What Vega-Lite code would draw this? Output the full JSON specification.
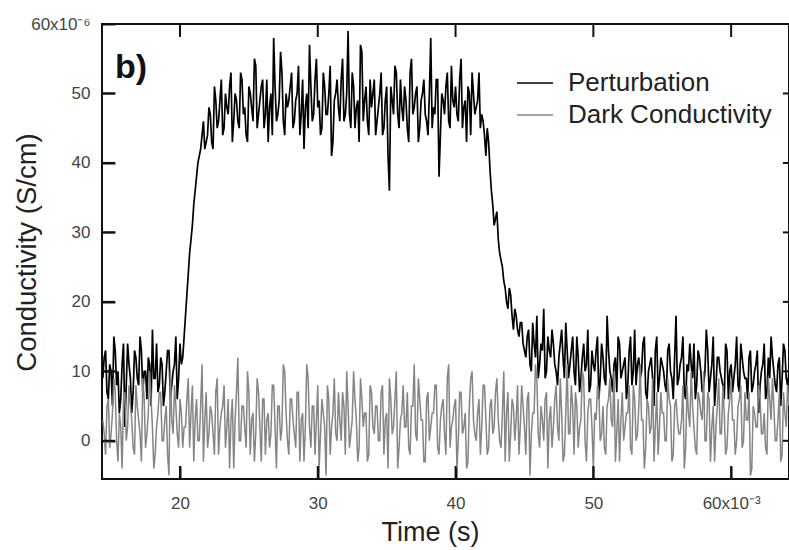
{
"$schema":"https://vega.github.io/schema/vega-lite/v6.json",
"autosize":{"type":"none"},
"width":687,"height":455,
"padding":{"left":102,"top":24,"right":0,"bottom":71},
"background":"white",
"config":{"view":{"stroke":"#111","strokeWidth":2},"font":"Liberation Sans"},
"datasets":{
"frame":[
{"g":"top","x":14.34,"y":60},{"g":"top","x":64.2,"y":60},
{"g":"b20","x":20,"y":-5.5},{"g":"b20","x":20,"y":-3.63},
{"g":"b30","x":30,"y":-5.5},{"g":"b30","x":30,"y":-3.63},
{"g":"b40","x":40,"y":-5.5},{"g":"b40","x":40,"y":-3.63},
{"g":"b50","x":50,"y":-5.5},{"g":"b50","x":50,"y":-3.63},
{"g":"b60","x":60,"y":-5.5},{"g":"b60","x":60,"y":-3.63},
{"g":"t20","x":20,"y":60},{"g":"t20","x":20,"y":58.13},
{"g":"t30","x":30,"y":60},{"g":"t30","x":30,"y":58.13},
{"g":"t40","x":40,"y":60},{"g":"t40","x":40,"y":58.13},
{"g":"t50","x":50,"y":60},{"g":"t50","x":50,"y":58.13},
{"g":"t60","x":60,"y":60},{"g":"t60","x":60,"y":58.13},
{"g":"l0","x":14.34,"y":0},{"g":"l0","x":15.28,"y":0},
{"g":"l10","x":14.34,"y":10},{"g":"l10","x":15.28,"y":10},
{"g":"l20","x":14.34,"y":20},{"g":"l20","x":15.28,"y":20},
{"g":"l30","x":14.34,"y":30},{"g":"l30","x":15.28,"y":30},
{"g":"l40","x":14.34,"y":40},{"g":"l40","x":15.28,"y":40},
{"g":"l50","x":14.34,"y":50},{"g":"l50","x":15.28,"y":50},
{"g":"l60","x":14.34,"y":60},{"g":"l60","x":15.28,"y":60},
{"g":"r0","x":63.76,"y":0},{"g":"r0","x":64.2,"y":0},
{"g":"r10","x":63.76,"y":10},{"g":"r10","x":64.2,"y":10},
{"g":"r20","x":63.76,"y":20},{"g":"r20","x":64.2,"y":20},
{"g":"r30","x":63.76,"y":30},{"g":"r30","x":64.2,"y":30},
{"g":"r40","x":63.76,"y":40},{"g":"r40","x":64.2,"y":40},
{"g":"r50","x":63.76,"y":50},{"g":"r50","x":64.2,"y":50},
{"g":"r60","x":63.76,"y":60},{"g":"r60","x":64.2,"y":60}
],
"series":[
{"t":14.4,"p":9,"d":3},{"t":14.6,"p":13,"d":-2},{"t":14.8,"p":6,"d":6},{"t":15,"p":10,"d":1},{"t":15.2,"p":15,"d":9},{"t":15.4,"p":8,"d":0},{"t":15.6,"p":4,"d":4},{"t":15.8,"p":11,"d":-4},{"t":16,"p":2,"d":7},{"t":16.2,"p":14,"d":2},
{"t":16.4,"p":9,"d":5},{"t":16.6,"p":7,"d":-1},{"t":16.8,"p":12,"d":8},{"t":17,"p":8,"d":3},{"t":17.2,"p":13,"d":-3},{"t":17.4,"p":10,"d":6},{"t":17.6,"p":6,"d":1},{"t":17.8,"p":11,"d":10},{"t":18,"p":16,"d":2},{"t":18.2,"p":9,"d":-2},
{"t":18.4,"p":7,"d":4},{"t":18.6,"p":12,"d":7},{"t":18.8,"p":5,"d":0},{"t":19,"p":10,"d":5},{"t":19.2,"p":13,"d":-5},{"t":19.4,"p":8,"d":3},{"t":19.6,"p":11,"d":8},{"t":19.8,"p":6,"d":1},{"t":20,"p":14,"d":6},{"t":20.2,"p":12,"d":-1},
{"t":20.4,"p":18,"d":2},{"t":20.6,"p":24,"d":9},{"t":20.8,"p":29,"d":4},{"t":21,"p":34,"d":-3},{"t":21.2,"p":38,"d":6},{"t":21.4,"p":41,"d":0},{"t":21.6,"p":44,"d":11},{"t":21.8,"p":42,"d":3},{"t":22,"p":44,"d":-1},{"t":22.2,"p":47,"d":5},
{"t":22.4,"p":42,"d":1},{"t":22.6,"p":49,"d":7},{"t":22.8,"p":46,"d":-2},{"t":23,"p":52,"d":4},{"t":23.2,"p":45,"d":8},{"t":23.4,"p":48,"d":2},{"t":23.6,"p":51,"d":-4},{"t":23.8,"p":43,"d":6},{"t":24,"p":50,"d":3},{"t":24.2,"p":46,"d":12},
{"t":24.4,"p":53,"d":0},{"t":24.6,"p":47,"d":5},{"t":24.8,"p":44,"d":-1},{"t":25,"p":51,"d":7},{"t":25.2,"p":48,"d":3},{"t":25.4,"p":55,"d":-3},{"t":25.6,"p":45,"d":9},{"t":25.8,"p":49,"d":2},{"t":26,"p":52,"d":6},{"t":26.2,"p":47,"d":-2},
{"t":26.4,"p":43,"d":4},{"t":26.6,"p":50,"d":1},{"t":26.8,"p":58,"d":8},{"t":27,"p":46,"d":-4},{"t":27.2,"p":49,"d":5},{"t":27.4,"p":53,"d":2},{"t":27.6,"p":44,"d":10},{"t":27.8,"p":48,"d":0},{"t":28,"p":51,"d":6},{"t":28.2,"p":45,"d":3},
{"t":28.4,"p":49,"d":-1},{"t":28.6,"p":54,"d":7},{"t":28.8,"p":47,"d":3},{"t":29,"p":42,"d":-3},{"t":29.2,"p":50,"d":11},{"t":29.4,"p":57,"d":2},{"t":29.6,"p":46,"d":5},{"t":29.8,"p":52,"d":-2},{"t":30,"p":48,"d":8},{"t":30.2,"p":44,"d":1},
{"t":30.4,"p":53,"d":4},{"t":30.6,"p":47,"d":-5},{"t":30.8,"p":50,"d":6},{"t":31,"p":41,"d":2},{"t":31.2,"p":49,"d":9},{"t":31.4,"p":52,"d":0},{"t":31.6,"p":46,"d":3},{"t":31.8,"p":55,"d":7},{"t":32,"p":47,"d":-2},{"t":32.2,"p":59,"d":5},
{"t":32.4,"p":45,"d":1},{"t":32.6,"p":51,"d":10},{"t":32.8,"p":48,"d":3},{"t":33,"p":43,"d":-1},{"t":33.2,"p":56,"d":6},{"t":33.4,"p":49,"d":4},{"t":33.6,"p":46,"d":-3},{"t":33.8,"p":52,"d":8},{"t":34,"p":50,"d":2},{"t":34.2,"p":44,"d":5},
{"t":34.4,"p":48,"d":0},{"t":34.6,"p":53,"d":7},{"t":34.8,"p":45,"d":-2},{"t":35,"p":51,"d":4},{"t":35.2,"p":36,"d":9},{"t":35.4,"p":49,"d":1},{"t":35.6,"p":54,"d":6},{"t":35.8,"p":47,"d":-4},{"t":36,"p":52,"d":3},{"t":36.2,"p":46,"d":8},
{"t":36.4,"p":49,"d":2},{"t":36.6,"p":43,"d":-1},{"t":36.8,"p":55,"d":5},{"t":37,"p":48,"d":11},{"t":37.2,"p":51,"d":0},{"t":37.4,"p":45,"d":6},{"t":37.6,"p":50,"d":3},{"t":37.8,"p":47,"d":-3},{"t":38,"p":44,"d":7},{"t":38.2,"p":58,"d":2},
{"t":38.4,"p":48,"d":4},{"t":38.6,"p":52,"d":8},{"t":38.8,"p":38,"d":-2},{"t":39,"p":50,"d":5},{"t":39.2,"p":47,"d":1},{"t":39.4,"p":53,"d":9},{"t":39.6,"p":45,"d":-1},{"t":39.8,"p":49,"d":3},{"t":40,"p":51,"d":6},{"t":40.2,"p":46,"d":0},
{"t":40.4,"p":55,"d":7},{"t":40.6,"p":48,"d":2},{"t":40.8,"p":43,"d":-4},{"t":41,"p":50,"d":5},{"t":41.2,"p":53,"d":10},{"t":41.4,"p":47,"d":1},{"t":41.6,"p":49,"d":4},{"t":41.8,"p":45,"d":-2},{"t":42,"p":46,"d":8},{"t":42.2,"p":41,"d":3},
{"t":42.4,"p":43,"d":-1},{"t":42.6,"p":36,"d":6},{"t":42.8,"p":31,"d":2},{"t":43,"p":33,"d":9},{"t":43.2,"p":27,"d":0},{"t":43.4,"p":25,"d":4},{"t":43.6,"p":22,"d":-3},{"t":43.8,"p":19,"d":7},{"t":44,"p":21,"d":1},{"t":44.2,"p":16,"d":5},
{"t":44.4,"p":18,"d":3},{"t":44.6,"p":15,"d":-2},{"t":44.8,"p":17,"d":8},{"t":45,"p":13,"d":2},{"t":45.2,"p":15,"d":6},{"t":45.4,"p":11,"d":-5},{"t":45.6,"p":17,"d":4},{"t":45.8,"p":12,"d":11},{"t":46,"p":9,"d":1},{"t":46.2,"p":14,"d":5},
{"t":46.4,"p":19,"d":0},{"t":46.6,"p":10,"d":7},{"t":46.8,"p":13,"d":3},{"t":47,"p":16,"d":-1},{"t":47.2,"p":11,"d":6},{"t":47.4,"p":8,"d":2},{"t":47.6,"p":14,"d":9},{"t":47.8,"p":12,"d":-3},{"t":48,"p":17,"d":4},{"t":48.2,"p":9,"d":1},
{"t":48.4,"p":13,"d":8},{"t":48.6,"p":10,"d":-2},{"t":48.8,"p":15,"d":5},{"t":49,"p":7,"d":2},{"t":49.2,"p":12,"d":10},{"t":49.4,"p":10,"d":0},{"t":49.6,"p":16,"d":4},{"t":49.8,"p":8,"d":6},{"t":50,"p":11,"d":-4},{"t":50.2,"p":13,"d":3},
{"t":50.4,"p":6,"d":7},{"t":50.6,"p":14,"d":1},{"t":50.8,"p":9,"d":-1},{"t":51,"p":18,"d":5},{"t":51.2,"p":10,"d":9},{"t":51.4,"p":7,"d":2},{"t":51.6,"p":12,"d":-3},{"t":51.8,"p":15,"d":6},{"t":52,"p":9,"d":3},{"t":52.2,"p":11,"d":0},
{"t":52.4,"p":6,"d":4},{"t":52.6,"p":13,"d":8},{"t":52.8,"p":8,"d":-2},{"t":53,"p":16,"d":6},{"t":53.2,"p":11,"d":1},{"t":53.4,"p":9,"d":11},{"t":53.6,"p":14,"d":3},{"t":53.8,"p":7,"d":-1},{"t":54,"p":10,"d":5},{"t":54.2,"p":12,"d":2},
{"t":54.4,"p":5,"d":-3},{"t":54.6,"p":15,"d":7},{"t":54.8,"p":9,"d":2},{"t":55,"p":11,"d":4},{"t":55.2,"p":8,"d":0},{"t":55.4,"p":13,"d":9},{"t":55.6,"p":10,"d":5},{"t":55.8,"p":6,"d":-2},{"t":56,"p":18,"d":6},{"t":56.2,"p":9,"d":1},
{"t":56.4,"p":12,"d":3},{"t":56.6,"p":7,"d":-4},{"t":56.8,"p":11,"d":8},{"t":57,"p":14,"d":2},{"t":57.2,"p":9,"d":5},{"t":57.4,"p":6,"d":-1},{"t":57.6,"p":13,"d":7},{"t":57.8,"p":10,"d":4},{"t":58,"p":8,"d":10},{"t":58.2,"p":16,"d":0},
{"t":58.4,"p":7,"d":6},{"t":58.6,"p":11,"d":2},{"t":58.8,"p":5,"d":-3},{"t":59,"p":12,"d":5},{"t":59.2,"p":10,"d":1},{"t":59.4,"p":8,"d":8},{"t":59.6,"p":14,"d":-2},{"t":59.8,"p":6,"d":4},{"t":60,"p":11,"d":9},{"t":60.2,"p":9,"d":3},
{"t":60.4,"p":15,"d":0},{"t":60.6,"p":7,"d":6},{"t":60.8,"p":12,"d":-1},{"t":61,"p":9,"d":7},{"t":61.2,"p":6,"d":3},{"t":61.4,"p":13,"d":-5},{"t":61.6,"p":8,"d":5},{"t":61.8,"p":11,"d":2},{"t":62,"p":4,"d":8},{"t":62.2,"p":10,"d":1},
{"t":62.4,"p":14,"d":4},{"t":62.6,"p":7,"d":-2},{"t":62.8,"p":9,"d":6},{"t":63,"p":12,"d":9},{"t":63.2,"p":8,"d":0},{"t":63.4,"p":11,"d":3},{"t":63.6,"p":5,"d":-3},{"t":63.8,"p":14,"d":7},{"t":64,"p":9,"d":2},{"t":64.2,"p":10,"d":5},
{"t":14.5,"p":12,"d":1},{"t":14.7,"p":7,"d":5},{"t":14.9,"p":11,"d":-1},{"t":15.1,"p":5,"d":4},{"t":15.3,"p":13,"d":7},{"t":15.5,"p":10,"d":-3},{"t":15.7,"p":6,"d":2},{"t":15.9,"p":14,"d":6},{"t":16.1,"p":8,"d":0},{"t":16.3,"p":11,"d":8},
{"t":16.5,"p":4,"d":3},{"t":16.7,"p":13,"d":-2},{"t":16.9,"p":9,"d":5},{"t":17.1,"p":15,"d":1},{"t":17.3,"p":7,"d":9},{"t":17.5,"p":10,"d":-1},{"t":17.7,"p":12,"d":4},{"t":17.9,"p":5,"d":6},{"t":18.1,"p":9,"d":-4},{"t":18.3,"p":14,"d":2},
{"t":18.5,"p":8,"d":7},{"t":18.7,"p":11,"d":0},{"t":18.9,"p":7,"d":3},{"t":19.1,"p":13,"d":-2},{"t":19.3,"p":6,"d":10},{"t":19.5,"p":10,"d":1},{"t":19.7,"p":15,"d":5},{"t":19.9,"p":9,"d":-1},{"t":20.1,"p":11,"d":4},
{"t":20.3,"p":15,"d":2},{"t":20.5,"p":21,"d":6},{"t":20.7,"p":27,"d":-1},{"t":20.9,"p":31,"d":8},{"t":21.1,"p":36,"d":3},{"t":21.3,"p":40,"d":0},{"t":21.5,"p":42,"d":5},{"t":21.7,"p":46,"d":-3},{"t":21.9,"p":43,"d":7},{"t":22.1,"p":48,"d":1},
{"t":22.3,"p":43,"d":4},{"t":22.5,"p":51,"d":-2},{"t":22.7,"p":45,"d":9},{"t":22.9,"p":49,"d":2},{"t":23.1,"p":44,"d":5},{"t":23.3,"p":50,"d":-1},{"t":23.5,"p":47,"d":6},{"t":23.7,"p":53,"d":3},{"t":23.9,"p":46,"d":-4},{"t":24.1,"p":49,"d":7},
{"t":24.3,"p":45,"d":0},{"t":24.5,"p":52,"d":5},{"t":24.7,"p":48,"d":2},{"t":24.9,"p":43,"d":10},{"t":25.1,"p":50,"d":-2},{"t":25.3,"p":46,"d":4},{"t":25.5,"p":54,"d":1},{"t":25.7,"p":47,"d":7},{"t":25.9,"p":51,"d":-3},{"t":26.1,"p":45,"d":6},
{"t":26.3,"p":52,"d":3},{"t":26.5,"p":48,"d":-1},{"t":26.7,"p":44,"d":8},{"t":26.9,"p":51,"d":2},{"t":27.1,"p":47,"d":5},{"t":27.3,"p":56,"d":0},{"t":27.5,"p":46,"d":11},{"t":27.7,"p":50,"d":4},{"t":27.9,"p":49,"d":-2},{"t":28.1,"p":53,"d":6},
{"t":28.3,"p":46,"d":1},{"t":28.5,"p":50,"d":7},{"t":28.7,"p":44,"d":-3},{"t":28.9,"p":52,"d":4},{"t":29.1,"p":48,"d":2},{"t":29.3,"p":45,"d":9},{"t":29.5,"p":51,"d":-1},{"t":29.7,"p":47,"d":5},{"t":29.9,"p":55,"d":3},{"t":30.1,"p":49,"d":-4},
{"t":30.3,"p":45,"d":6},{"t":30.5,"p":51,"d":2},{"t":30.7,"p":47,"d":8},{"t":30.9,"p":54,"d":-2},{"t":31.1,"p":43,"d":4},{"t":31.3,"p":50,"d":1},{"t":31.5,"p":48,"d":7},{"t":31.7,"p":52,"d":0},{"t":31.9,"p":46,"d":5},{"t":32.1,"p":50,"d":10},
{"t":32.3,"p":47,"d":-1},{"t":32.5,"p":53,"d":3},{"t":32.7,"p":45,"d":6},{"t":32.9,"p":49,"d":-3},{"t":33.1,"p":57,"d":9},{"t":33.3,"p":46,"d":2},{"t":33.5,"p":51,"d":4},{"t":33.7,"p":44,"d":-2},{"t":33.9,"p":48,"d":7},{"t":34.1,"p":52,"d":1},
{"t":34.3,"p":46,"d":5},{"t":34.5,"p":50,"d":0},{"t":34.7,"p":44,"d":8},{"t":34.9,"p":49,"d":3},{"t":35.1,"p":41,"d":-4},{"t":35.3,"p":51,"d":6},{"t":35.5,"p":47,"d":2},{"t":35.7,"p":53,"d":10},{"t":35.9,"p":45,"d":-1},{"t":36.1,"p":48,"d":4},
{"t":36.3,"p":51,"d":2},{"t":36.5,"p":45,"d":7},{"t":36.7,"p":53,"d":-2},{"t":36.9,"p":47,"d":5},{"t":37.1,"p":50,"d":1},{"t":37.3,"p":43,"d":9},{"t":37.5,"p":49,"d":3},{"t":37.7,"p":52,"d":-3},{"t":37.9,"p":46,"d":6},{"t":38.1,"p":50,"d":0},
{"t":38.3,"p":45,"d":4},{"t":38.5,"p":47,"d":8},{"t":38.7,"p":52,"d":-1},{"t":38.9,"p":44,"d":3},{"t":39.1,"p":49,"d":6},{"t":39.3,"p":51,"d":-2},{"t":39.5,"p":46,"d":11},{"t":39.7,"p":54,"d":2},{"t":39.9,"p":48,"d":5},{"t":40.1,"p":47,"d":-4},
{"t":40.3,"p":52,"d":7},{"t":40.5,"p":45,"d":1},{"t":40.7,"p":49,"d":4},{"t":40.9,"p":51,"d":-3},{"t":41.1,"p":44,"d":9},{"t":41.3,"p":50,"d":3},{"t":41.5,"p":48,"d":0},{"t":41.7,"p":53,"d":6},{"t":41.9,"p":47,"d":2},{"t":42.1,"p":44,"d":8},
{"t":42.3,"p":45,"d":-2},{"t":42.5,"p":39,"d":5},{"t":42.7,"p":34,"d":1},{"t":42.9,"p":32,"d":7},{"t":43.1,"p":29,"d":3},{"t":43.3,"p":26,"d":-1},{"t":43.5,"p":23,"d":10},{"t":43.7,"p":20,"d":4},{"t":43.9,"p":22,"d":-3},{"t":44.1,"p":18,"d":6},
{"t":44.3,"p":19,"d":0},{"t":44.5,"p":16,"d":8},{"t":44.7,"p":17,"d":2},{"t":44.9,"p":14,"d":5},{"t":45.1,"p":12,"d":-2},{"t":45.3,"p":16,"d":7},{"t":45.5,"p":10,"d":1},{"t":45.7,"p":14,"d":4},{"t":45.9,"p":18,"d":9},{"t":46.1,"p":11,"d":-1},
{"t":46.3,"p":13,"d":3},{"t":46.5,"p":9,"d":6},{"t":46.7,"p":15,"d":-4},{"t":46.9,"p":12,"d":5},{"t":47.1,"p":14,"d":2},{"t":47.3,"p":10,"d":8},{"t":47.5,"p":12,"d":0},{"t":47.7,"p":16,"d":4},{"t":47.9,"p":9,"d":-2},{"t":48.1,"p":13,"d":11},
{"t":48.3,"p":11,"d":1},{"t":48.5,"p":15,"d":5},{"t":48.7,"p":8,"d":7},{"t":48.9,"p":12,"d":-1},{"t":49.1,"p":9,"d":3},{"t":49.3,"p":14,"d":9},{"t":49.5,"p":11,"d":-3},{"t":49.7,"p":7,"d":6},{"t":49.9,"p":13,"d":2},{"t":50.1,"p":10,"d":4},
{"t":50.3,"p":15,"d":8},{"t":50.5,"p":9,"d":0},{"t":50.7,"p":12,"d":5},{"t":50.9,"p":8,"d":-2},{"t":51.1,"p":13,"d":6},{"t":51.3,"p":9,"d":3},{"t":51.5,"p":11,"d":10},{"t":51.7,"p":7,"d":1},{"t":51.9,"p":14,"d":-3},{"t":52.1,"p":10,"d":7},
{"t":52.3,"p":12,"d":2},{"t":52.5,"p":8,"d":4},{"t":52.7,"p":15,"d":-1},{"t":52.9,"p":10,"d":8},{"t":53.1,"p":8,"d":0},{"t":53.3,"p":12,"d":5},{"t":53.5,"p":10,"d":3},{"t":53.7,"p":15,"d":-4},{"t":53.9,"p":6,"d":6},{"t":54.1,"p":11,"d":1},
{"t":54.3,"p":9,"d":9},{"t":54.5,"p":13,"d":2},{"t":54.7,"p":7,"d":-2},{"t":54.9,"p":12,"d":7},{"t":55.1,"p":10,"d":4},{"t":55.3,"p":7,"d":0},{"t":55.5,"p":14,"d":6},{"t":55.7,"p":9,"d":-3},{"t":55.9,"p":12,"d":5},{"t":56.1,"p":8,"d":3},
{"t":56.3,"p":11,"d":1},{"t":56.5,"p":15,"d":8},{"t":56.7,"p":6,"d":-1},{"t":56.9,"p":10,"d":4},{"t":57.1,"p":11,"d":10},{"t":57.3,"p":14,"d":2},{"t":57.5,"p":8,"d":-2},{"t":57.7,"p":12,"d":6},{"t":57.9,"p":7,"d":3},{"t":58.1,"p":10,"d":0},
{"t":58.3,"p":13,"d":7},{"t":58.5,"p":9,"d":-3},{"t":58.7,"p":15,"d":5},{"t":58.9,"p":8,"d":2},{"t":59.1,"p":12,"d":9},{"t":59.3,"p":9,"d":1},{"t":59.5,"p":6,"d":4},{"t":59.7,"p":13,"d":-1},{"t":59.9,"p":10,"d":6},{"t":60.1,"p":7,"d":3},
{"t":60.3,"p":11,"d":-2},{"t":60.5,"p":8,"d":5},{"t":60.7,"p":14,"d":8},{"t":60.9,"p":10,"d":0},{"t":61.1,"p":9,"d":3},{"t":61.3,"p":12,"d":7},{"t":61.5,"p":7,"d":-4},{"t":61.7,"p":10,"d":4},{"t":61.9,"p":13,"d":2},{"t":62.1,"p":8,"d":6},
{"t":62.3,"p":11,"d":1},{"t":62.5,"p":6,"d":-1},{"t":62.7,"p":12,"d":9},{"t":62.9,"p":15,"d":3},{"t":63.1,"p":10,"d":5},{"t":63.3,"p":7,"d":0},{"t":63.5,"p":12,"d":7},{"t":63.7,"p":9,"d":-2},{"t":63.9,"p":13,"d":4},{"t":64.1,"p":8,"d":8}
]},
"layer":[
{
"data":{"name":"series"},
"transform":[{"fold":["p"],"as":["series","value"]}],
"mark":{"type":"line","strokeWidth":1.7,"clip":true},
"encoding":{
"x":{"field":"t","type":"quantitative","scale":{"domain":[14.34,64.2],"nice":false,"zero":false},
"axis":{"orient":"bottom","offset":-13,"values":[20,30,40,50,60],"grid":false,"title":"Time (s)","labelExpr":"datum.value == 60 ? '60x10⁻³' : datum.label","domain":false,"ticks":true,"tickSize":13,"tickWidth":2,"tickColor":"#111","labelPadding":16,"labelFontSize":17,"labelColor":"#444","labelFlush":false,"titleFontSize":27,"titleFontWeight":"normal","titleColor":"#222","titleX":328,"titleY":74,"titleBaseline":"alphabetic","titleAlign":"center","titleAnchor":null}},
"y":{"field":"value","type":"quantitative","scale":{"domain":[-5.5,60],"nice":false,"zero":false},
"axis":{"orient":"left","offset":-13,"values":[0,10,20,30,40,50,60],"grid":false,"title":"Conductivity (S/cm)","labelExpr":"datum.value == 60 ? '60x10⁻⁶' : datum.label","domain":false,"ticks":true,"tickSize":13,"tickWidth":2,"tickColor":"#111","labelPadding":12,"labelFontSize":17,"labelColor":"#444","labelFlush":false,"titleFontSize":27.5,"titleFontWeight":"normal","titleColor":"#222","titleX":-80,"titleY":228,"titleAngle":-90,"titleBaseline":"alphabetic","titleAlign":"center","titleAnchor":null}},
"color":{"field":"series","type":"nominal","scale":{"domain":["p","d"],"range":["#000000","#858585"]},
"legend":{"orient":"none","legendX":414,"legendY":40,"title":null,"labelExpr":"datum.label == 'p' ? 'Perturbation' : 'Dark Conductivity'","symbolType":"stroke","symbolSize":1296,"symbolStrokeWidth":1.5,"labelFontSize":26,"labelColor":"#222","labelLimit":400,"labelOffset":14,"rowPadding":-2,"padding":0}}
}
},
{
"data":{"name":"series"},
"transform":[{"fold":["d"],"as":["series","value"]}],
"mark":{"type":"line","strokeWidth":1.5,"clip":true},
"encoding":{
"x":{"field":"t","type":"quantitative"},
"y":{"field":"value","type":"quantitative"},
"color":{"field":"series","type":"nominal"}
}
},
{
"data":{"name":"frame"},
"mark":{"type":"line","strokeWidth":2,"color":"#111"},
"encoding":{
"x":{"field":"x","type":"quantitative"},
"y":{"field":"y","type":"quantitative"},
"detail":{"field":"g","type":"nominal"}
}
},
{
"data":{"values":[{"label":"b)"}]},
"mark":{"type":"text","align":"left","baseline":"alphabetic","fontSize":34,"fontWeight":"bold","color":"#111"},
"encoding":{
"x":{"datum":15.28,"type":"quantitative"},
"y":{"datum":52.2,"type":"quantitative"},
"text":{"field":"label"}
}
}
]
}
